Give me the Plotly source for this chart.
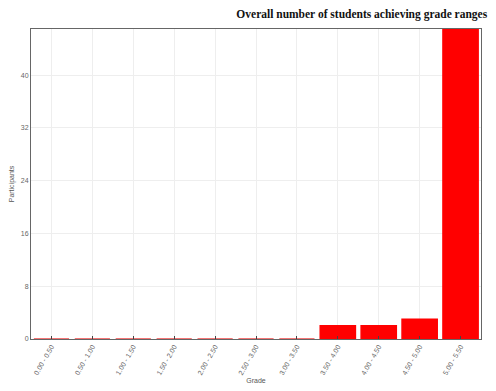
import plotly.graph_objects as go

categories = ["0.00 - 0.50", "0.50 - 1.00", "1.00 - 1.50", "1.50 - 2.00", "2.00 - 2.50",
              "2.50 - 3.00", "3.00 - 3.50", "3.50 - 4.00", "4.00 - 4.50", "4.50 - 5.00", "5.00 - 5.50"]
participants = [0, 0, 0, 0, 0, 0, 0, 2, 2, 3, 47]
y_ticks = [0, 8, 16, 24, 32, 40]

line_colors = ["#f04848" if v == 0 else "#ff0000" for v in participants]

fig = go.Figure(go.Bar(
    x=categories, y=participants,
    marker=dict(color="#ff0000", line=dict(color=line_colors, width=1.5)),
))

# the page body has an 8px margin, so the figure is shrunk by 8px
fig.update_layout(
    width=488, height=383,
    margin=dict(l=23, r=15, t=21, b=52, autoexpand=False),
    paper_bgcolor="white", plot_bgcolor="white",
    bargap=0.14,
    showlegend=False,
    title=dict(text="<b>Overall number of students achieving grade ranges</b>",
               x=0.982, xanchor="right", xref="container", y=0.985, yanchor="middle",
               font=dict(family="Liberation Serif", size=11.5, color="#111")),
    font=dict(family="Liberation Sans", size=7, color="#555"),
)
fig.update_xaxes(
    type="category", range=[-0.5, 10.5], tickangle=-60, automargin=False,
    showline=True, linecolor="#666", linewidth=1, mirror=True,
    showgrid=True, gridcolor="#eeeeee", gridwidth=1,
    ticks="inside", ticklen=3, tickcolor="#444",
    title=dict(text="Grade", font=dict(size=7, color="#555"), standoff=2),
    tickfont=dict(size=7, color="#666"),
)
fig.update_yaxes(
    range=[0, 47], tickvals=y_ticks, automargin=False,
    showline=True, linecolor="#666", linewidth=1, mirror=True,
    showgrid=True, gridcolor="#eeeeee", gridwidth=1,
    zeroline=False, ticks="",
    title=dict(text="Participants", font=dict(size=7, color="#555"), standoff=8),
    tickfont=dict(size=7, color="#666"),
)

fig.write_html("out.html")
